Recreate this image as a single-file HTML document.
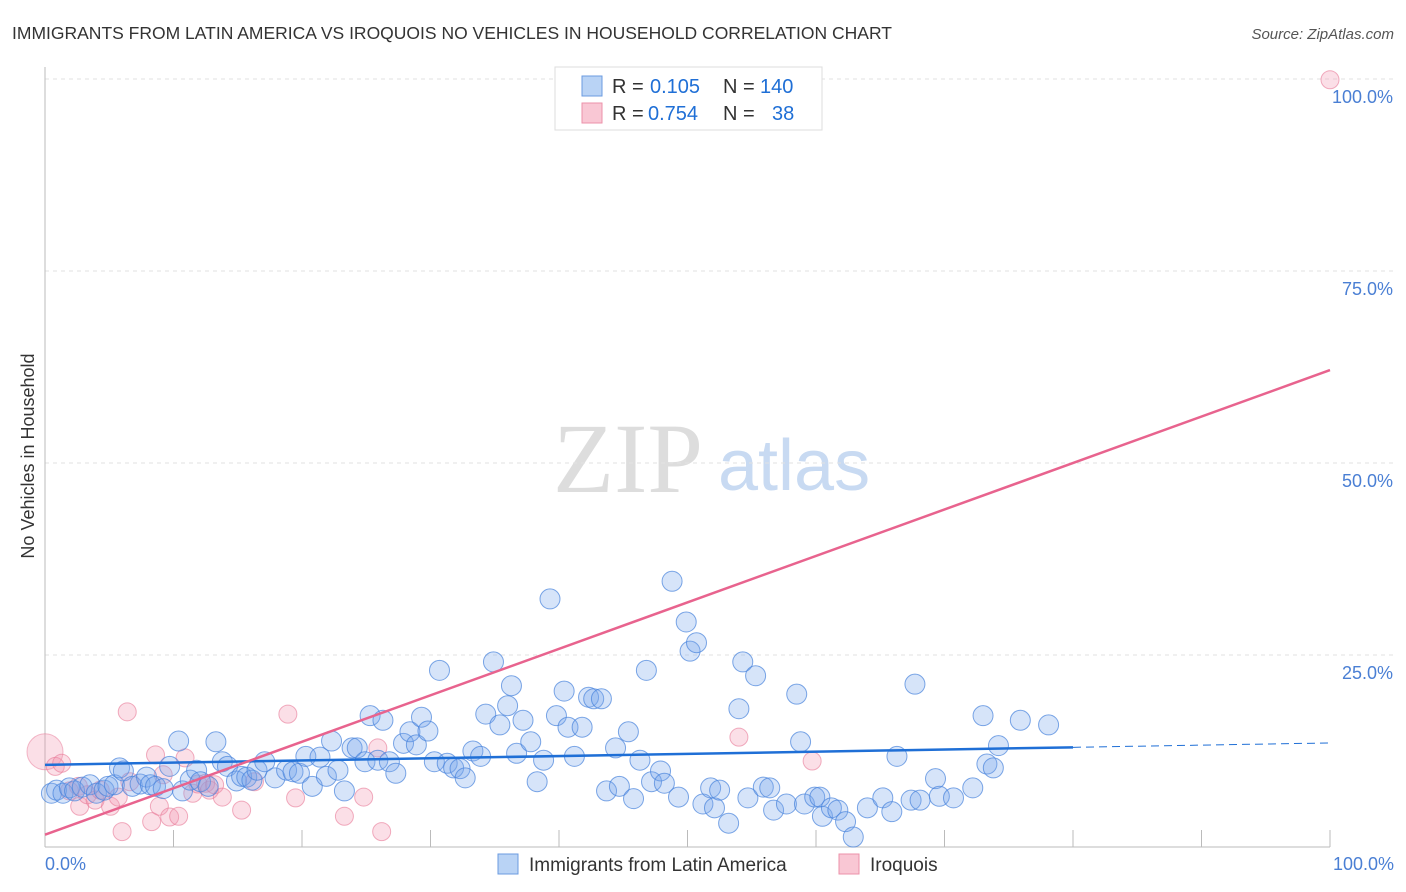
<!DOCTYPE html>
<html><head><meta charset="utf-8"><style>
body{margin:0;background:#fff;font-family:"Liberation Sans",sans-serif}
svg{display:block}
</style></head><body>
<svg id="c" width="1406" height="892" viewBox="0 0 1406 892">
<text x="12" y="39" font-size="17.5" fill="#333">IMMIGRANTS FROM LATIN AMERICA VS IROQUOIS NO VEHICLES IN HOUSEHOLD CORRELATION CHART</text>
<text x="1394" y="39" font-size="15" fill="#555" font-style="italic" text-anchor="end">Source: ZipAtlas.com</text>
<g>
<text x="553" y="492" font-size="100" fill="#dddddd" font-family="Liberation Serif,serif">ZIP</text>
<text x="718" y="490" font-size="72" fill="#c8daf2">atlas</text>
</g>
<g id="grid"></g>
<g id="axes"></g>
<g id="pts"></g>
<g id="lines"></g>
<text transform="translate(34,456) rotate(-90)" font-size="18" fill="#333" text-anchor="middle">No Vehicles in Household</text>
<g>
<rect x="555" y="67" width="267" height="63" fill="#fff" stroke="#ddd"/>
<rect x="582" y="76" width="20" height="20" fill="#b9d3f5" stroke="#6b9be0"/>
<rect x="582" y="103" width="20" height="20" fill="#f9c7d4" stroke="#ec92aa"/>
<text x="612" y="93" font-size="20" fill="#333">R =</text>
<text x="650" y="93" font-size="20" fill="#1f6fd6">0.105</text>
<text x="723" y="93" font-size="20" fill="#333">N =</text>
<text x="760" y="93" font-size="20" fill="#1f6fd6">140</text>
<text x="612" y="120" font-size="20" fill="#333">R =</text>
<text x="648" y="120" font-size="20" fill="#1f6fd6">0.754</text>
<text x="723" y="120" font-size="20" fill="#333">N =</text>
<text x="772" y="120" font-size="20" fill="#1f6fd6">38</text>
</g>
<g>
<rect x="498" y="854" width="20" height="20" fill="#b9d3f5" stroke="#6b9be0"/>
<text x="529" y="871" font-size="19" fill="#333">Immigrants from Latin America</text>
<rect x="839" y="854" width="20" height="20" fill="#f9c7d4" stroke="#ec92aa"/>
<text x="870" y="871" font-size="19" fill="#333">Iroquois</text>
</g>
</svg>
<script>
const blueX=[0.5,0.9,1.4,1.9,2.3,2.9,3.5,4.0,4.6,4.9,5.4,5.8,6.1,6.8,7.4,7.9,8.2,8.6,9.2,9.7,10.4,10.7,11.3,11.8,12.1,12.7,13.3,13.8,14.2,14.9,15.3,15.7,16.1,16.5,17.1,17.9,18.8,19.3,19.8,20.3,20.8,21.4,21.9,22.3,22.8,23.3,23.9,24.3,24.9,25.3,25.9,26.3,26.8,27.3,27.9,28.4,28.9,29.3,29.8,30.3,30.7,31.3,31.8,32.3,32.7,33.3,33.9,34.3,34.9,35.4,36.0,36.3,36.7,37.2,37.8,38.3,38.8,39.3,39.8,40.4,40.7,41.2,41.8,42.3,42.7,43.3,43.7,44.4,44.7,45.4,45.8,46.3,46.8,47.2,47.9,48.2,48.8,49.3,49.9,50.2,50.7,51.2,51.8,52.1,52.5,53.2,54.0,54.3,54.7,55.3,55.9,56.4,56.7,57.7,58.5,58.8,59.1,59.9,60.3,60.5,61.2,61.7,62.3,62.9,64.0,65.2,65.9,66.3,67.4,67.7,68.1,69.3,69.6,70.7,72.2,73.0,73.3,73.8,74.2,75.9,78.1];
const blueY=[7.0,7.4,7.0,7.7,7.3,7.8,8.1,7.0,7.4,7.9,8.1,10.3,9.9,7.9,8.2,9.1,8.1,7.9,7.6,10.5,13.8,7.3,8.7,10.0,8.5,7.9,13.7,11.1,10.5,8.6,9.2,9.1,8.7,10.0,11.1,9.0,10.0,9.8,9.6,11.8,7.9,11.7,9.2,13.8,10.0,7.3,12.9,12.9,11.1,17.1,11.3,16.5,11.1,9.6,13.5,15.0,13.3,16.9,15.1,11.1,23.0,10.9,10.3,10.2,9.0,12.5,11.8,17.3,24.1,15.9,18.4,21.0,12.2,16.5,13.7,8.5,11.3,32.3,17.1,20.3,15.6,11.8,15.6,19.5,19.3,19.3,7.3,12.9,7.9,15.0,6.3,11.3,23.0,8.5,9.9,8.3,34.6,6.5,29.3,25.5,26.6,5.6,7.7,5.1,7.4,3.1,18.0,24.1,6.4,22.3,7.8,7.7,4.8,5.6,19.9,13.7,5.6,6.5,6.5,4.0,5.1,4.8,3.3,1.3,5.1,6.4,4.6,11.8,6.1,21.2,6.1,8.9,6.6,6.4,7.7,17.1,10.8,10.3,13.2,16.5,15.9];
const pinkX=[0.8,1.3,1.9,2.6,2.7,3.3,3.9,4.3,5.1,5.7,6.4,6.0,6.6,8.3,8.6,8.9,9.2,9.7,10.4,10.9,11.5,11.9,12.5,12.8,13.2,13.8,15.3,16.3,18.9,19.5,23.3,24.8,25.9,26.2,54.0,59.7,100];
const pinkY=[10.5,10.9,7.3,7.9,5.3,6.8,6.1,7.4,5.3,6.5,17.6,2.0,8.5,3.3,12.0,5.3,9.4,3.9,4.0,11.6,7.0,8.2,8.3,7.4,8.1,6.5,4.8,8.5,17.3,6.4,4.0,6.5,12.9,2.0,14.3,11.2,99.9];
const pinkBigX=[0], pinkBigY=[12.4];
const blueTrend=[10.7,0.0285]; // intercept, slope
const pinkTrend=[1.6,0.605];
const xTicks=[0,10,20,30,40,50,60,70,80,90,100];
const yTicks=[25,50,75,100];
const NS="http://www.w3.org/2000/svg";
const sx=v=>45+v*12.85, sy=v=>847-v*7.68;
function mk(tag,attrs,parent){const e=document.createElementNS(NS,tag);for(const k in attrs)e.setAttribute(k,attrs[k]);document.getElementById(parent).appendChild(e);return e;}
yTicks.forEach(t=>{
 const g=mk('line',{x1:45,x2:1394,y1:sy(t),y2:sy(t),stroke:'#e2e2e2','stroke-dasharray':'4,4'},'grid');
 
 
 const l=mk('text',{x:1393,y:sy(t)+24,'font-size':18,fill:'#4a7fd4','text-anchor':'end'},'grid');
 l.textContent=t.toFixed(1)+'%';
 
 
});
let a=mk('line',{x1:45,x2:45,y1:67,y2:847,stroke:'#bbb'},'axes');


a=mk('line',{x1:45,x2:1330,y1:847,y2:847,stroke:'#bbb'},'axes');


xTicks.forEach(t=>{if(t===0)return;
 const e=mk('line',{x1:sx(t),x2:sx(t),y1:830,y2:847,stroke:'#bbb'},'axes');
 
 
});
[[0,'0.0%',45,'start'],[100,'100.0%',1394,'end']].forEach(d=>{
 const e=mk('text',{x:d[2],y:870,'font-size':18,fill:'#4a7fd4','text-anchor':d[3]},'axes');
 e.textContent=d[1];
 
 
});
pinkBigX.forEach((x,i)=>{
 const c=mk('circle',{cx:sx(x),cy:sy(pinkBigY[i]),r:18,fill:'rgba(242,150,175,0.3)',stroke:'rgba(232,120,150,0.5)'},'pts');
 
 
});
pinkX.forEach((x,i)=>{
 const c=mk('circle',{cx:sx(x),cy:sy(pinkY[i]),r:9,fill:'rgba(242,150,175,0.3)',stroke:'rgba(232,120,150,0.6)'},'pts');
 
 
});
blueX.forEach((x,i)=>{
 const c=mk('circle',{cx:sx(x),cy:sy(blueY[i]),r:10,fill:'rgba(120,165,235,0.3)',stroke:'rgba(70,130,220,0.7)'},'pts');
 
 
});
const bt=x=>blueTrend[0]+blueTrend[1]*x, pt=x=>pinkTrend[0]+pinkTrend[1]*x;
let L=mk('line',{x1:sx(0),y1:sy(bt(0)),x2:sx(80),y2:sy(bt(80)),stroke:'#1f6fd6','stroke-width':2.5},'lines');


L=mk('line',{x1:sx(80),y1:sy(bt(80)),x2:sx(100),y2:sy(bt(100)),stroke:'#1f6fd6','stroke-width':1,'stroke-dasharray':'8,5'},'lines');


L=mk('line',{x1:sx(0),y1:sy(pt(0)),x2:sx(100),y2:sy(pt(100)),stroke:'#e8638e','stroke-width':2.5},'lines');


</script>
</body></html>
